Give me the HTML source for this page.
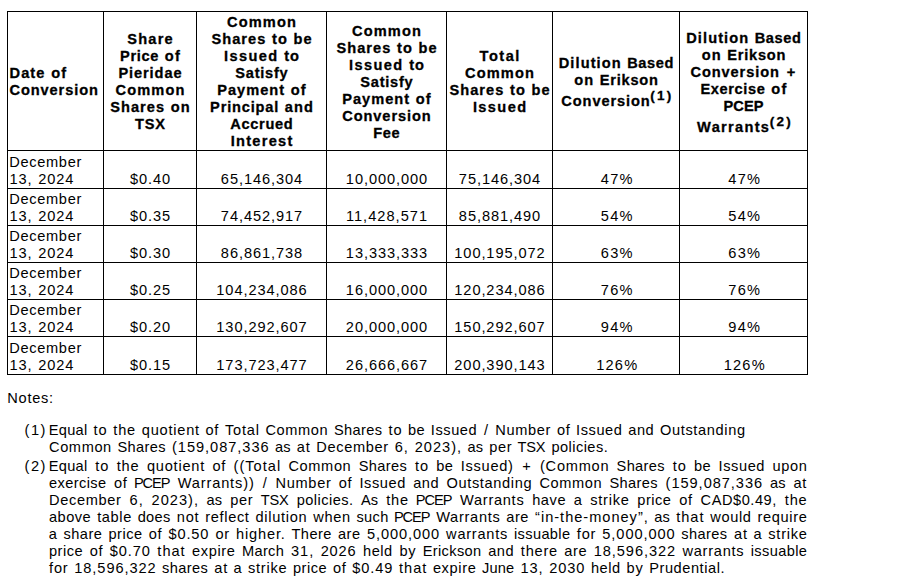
<!DOCTYPE html>
<html><head><meta charset="utf-8"><title>Conversion table</title>
<style>
html,body{margin:0;padding:0;background:#fff;}
body{width:899px;height:582px;position:relative;overflow:hidden;font-family:"Liberation Sans",sans-serif;font-size:14.6px;color:#000;}
.h,.v{position:absolute;background:#000;}
.h{height:1px;left:7px;width:801px;}
.v{width:1px;top:11px;height:364px;}
.l{position:absolute;white-space:nowrap;line-height:17px;height:17px;}
.b{font-weight:bold;-webkit-text-stroke:0.3px #000;}
.l span{display:inline-block;}
sup{font-size:13.5px;line-height:0;vertical-align:6px;letter-spacing:2.3px;margin-right:-2.5px;}
</style></head><body>
<div class="h" style="top:11px"></div><div class="h" style="top:150px"></div><div class="h" style="top:188px"></div><div class="h" style="top:225px"></div><div class="h" style="top:262px"></div><div class="h" style="top:299px"></div><div class="h" style="top:336px"></div><div class="h" style="top:374px"></div><div class="v" style="left:7px"></div><div class="v" style="left:103px"></div><div class="v" style="left:196px"></div><div class="v" style="left:326px"></div><div class="v" style="left:446px"></div><div class="v" style="left:552px"></div><div class="v" style="left:679px"></div><div class="v" style="left:807px"></div>
<div class="l b" style="left:9px;top:65px;word-spacing:1.54px"><span style="letter-spacing:1.09px;margin:0 -0.54px 0 0.54px">Date</span> <span style="letter-spacing:1.11px;margin:0 -0.55px 0 0.55px">of</span></div>
<div class="l b" style="left:9px;top:82px;word-spacing:1.54px"><span style="letter-spacing:0.91px;margin:0 -0.46px 0 0.46px">Conversion</span></div>
<div class="l b" style="left:126.7px;top:31px;word-spacing:1.54px"><span style="letter-spacing:1.21px;margin:0 -0.6px 0 0.6px">Share</span></div>
<div class="l b" style="left:119.7px;top:48px;word-spacing:1.54px"><span style="letter-spacing:0.66px;margin:0 -0.33px 0 0.33px">Price</span> <span style="letter-spacing:1.11px;margin:0 -0.55px 0 0.55px">of</span></div>
<div class="l b" style="left:118px;top:65px;word-spacing:1.54px"><span style="letter-spacing:0.9px;margin:0 -0.45px 0 0.45px">Pieridae</span></div>
<div class="l b" style="left:115px;top:82px;word-spacing:1.54px"><span style="letter-spacing:1.12px;margin:0 -0.56px 0 0.56px">Common</span></div>
<div class="l b" style="left:109.8px;top:99px;word-spacing:1.54px"><span style="letter-spacing:1.02px;margin:0 -0.51px 0 0.51px">Shares</span> <span style="letter-spacing:1.08px;margin:0 -0.54px 0 0.54px">on</span></div>
<div class="l b" style="left:134.5px;top:116px;word-spacing:1.54px"><span style="letter-spacing:0.87px;margin:0 -0.43px 0 0.43px">TSX</span></div>
<div class="l b" style="left:226.5px;top:14px;word-spacing:1.54px"><span style="letter-spacing:1.12px;margin:0 -0.56px 0 0.56px">Common</span></div>
<div class="l b" style="left:211px;top:31px;word-spacing:1.54px"><span style="letter-spacing:1.02px;margin:0 -0.51px 0 0.51px">Shares</span> <span style="letter-spacing:1.11px;margin:0 -0.55px 0 0.55px">to</span> <span style="letter-spacing:0.98px;margin:0 -0.49px 0 0.49px">be</span></div>
<div class="l b" style="left:223.4px;top:48px;word-spacing:1.54px"><span style="letter-spacing:1.39px;margin:0 -0.7px 0 0.7px">Issued</span> <span style="letter-spacing:1.11px;margin:0 -0.55px 0 0.55px">to</span></div>
<div class="l b" style="left:235px;top:65px;word-spacing:1.54px"><span style="letter-spacing:0.73px;margin:0 -0.37px 0 0.37px">Satisfy</span></div>
<div class="l b" style="left:216.7px;top:82px;word-spacing:1.54px"><span style="letter-spacing:1.02px;margin:0 -0.51px 0 0.51px">Payment</span> <span style="letter-spacing:1.11px;margin:0 -0.55px 0 0.55px">of</span></div>
<div class="l b" style="left:209.7px;top:99px;word-spacing:1.54px"><span style="letter-spacing:0.82px;margin:0 -0.41px 0 0.41px">Principal</span> <span style="letter-spacing:1.02px;margin:0 -0.51px 0 0.51px">and</span></div>
<div class="l b" style="left:230px;top:116px;word-spacing:1.54px"><span style="letter-spacing:0.66px;margin:0 -0.33px 0 0.33px">Accrued</span></div>
<div class="l b" style="left:230px;top:133px;word-spacing:1.54px"><span style="letter-spacing:1.29px;margin:0 -0.64px 0 0.64px">Interest</span></div>
<div class="l b" style="left:351.5px;top:23px;word-spacing:1.54px"><span style="letter-spacing:1.12px;margin:0 -0.56px 0 0.56px">Common</span></div>
<div class="l b" style="left:336px;top:40px;word-spacing:1.54px"><span style="letter-spacing:1.02px;margin:0 -0.51px 0 0.51px">Shares</span> <span style="letter-spacing:1.11px;margin:0 -0.55px 0 0.55px">to</span> <span style="letter-spacing:0.98px;margin:0 -0.49px 0 0.49px">be</span></div>
<div class="l b" style="left:348.4px;top:57px;word-spacing:1.54px"><span style="letter-spacing:1.39px;margin:0 -0.7px 0 0.7px">Issued</span> <span style="letter-spacing:1.11px;margin:0 -0.55px 0 0.55px">to</span></div>
<div class="l b" style="left:360px;top:74px;word-spacing:1.54px"><span style="letter-spacing:0.73px;margin:0 -0.37px 0 0.37px">Satisfy</span></div>
<div class="l b" style="left:341.7px;top:91px;word-spacing:1.54px"><span style="letter-spacing:1.02px;margin:0 -0.51px 0 0.51px">Payment</span> <span style="letter-spacing:1.11px;margin:0 -0.55px 0 0.55px">of</span></div>
<div class="l b" style="left:341.8px;top:108px;word-spacing:1.54px"><span style="letter-spacing:0.91px;margin:0 -0.46px 0 0.46px">Conversion</span></div>
<div class="l b" style="left:373px;top:125px;word-spacing:1.54px"><span style="letter-spacing:0.61px;margin:0 -0.31px 0 0.31px">Fee</span></div>
<div class="l b" style="left:478.85px;top:48px;word-spacing:1.54px"><span style="letter-spacing:1.5px;margin:0 -0.75px 0 0.75px">Total</span></div>
<div class="l b" style="left:464.5px;top:65px;word-spacing:1.54px"><span style="letter-spacing:1.12px;margin:0 -0.56px 0 0.56px">Common</span></div>
<div class="l b" style="left:449px;top:82px;word-spacing:1.54px"><span style="letter-spacing:1.02px;margin:0 -0.51px 0 0.51px">Shares</span> <span style="letter-spacing:1.11px;margin:0 -0.55px 0 0.55px">to</span> <span style="letter-spacing:0.98px;margin:0 -0.49px 0 0.49px">be</span></div>
<div class="l b" style="left:472.2px;top:99px;word-spacing:1.54px"><span style="letter-spacing:1.39px;margin:0 -0.7px 0 0.7px">Issued</span></div>
<div class="l b" style="left:558.2px;top:55px;word-spacing:1.54px"><span style="letter-spacing:1.09px;margin:0 -0.54px 0 0.54px">Dilution</span> <span style="letter-spacing:0.64px;margin:0 -0.32px 0 0.32px">Based</span></div>
<div class="l b" style="left:573.7px;top:72px;word-spacing:1.54px"><span style="letter-spacing:1.08px;margin:0 -0.54px 0 0.54px">on</span> <span style="letter-spacing:0.78px;margin:0 -0.39px 0 0.39px">Erikson</span></div>
<div class="l b" style="left:560.85px;top:93px;word-spacing:1.54px"><span style="letter-spacing:0.91px;margin:0 -0.46px 0 0.46px">Conversion</span><sup>(1)</sup></div>
<div class="l b" style="left:685.7px;top:30px;word-spacing:1.54px"><span style="letter-spacing:1.09px;margin:0 -0.54px 0 0.54px">Dilution</span> <span style="letter-spacing:0.64px;margin:0 -0.32px 0 0.32px">Based</span></div>
<div class="l b" style="left:701.2px;top:47px;word-spacing:1.54px"><span style="letter-spacing:1.08px;margin:0 -0.54px 0 0.54px">on</span> <span style="letter-spacing:0.78px;margin:0 -0.39px 0 0.39px">Erikson</span></div>
<div class="l b" style="left:690px;top:64px;word-spacing:1.54px"><span style="letter-spacing:0.91px;margin:0 -0.46px 0 0.46px">Conversion</span> <span style="letter-spacing:3.47px;margin:0 -1.73px 0 1.73px">+</span></div>
<div class="l b" style="left:700.2px;top:81px;word-spacing:1.54px"><span style="letter-spacing:0.62px;margin:0 -0.31px 0 0.31px">Exercise</span> <span style="letter-spacing:1.11px;margin:0 -0.55px 0 0.55px">of</span></div>
<div class="l b" style="left:723.5px;top:98px;word-spacing:1.54px"><span style="letter-spacing:0.06px;margin:0 -0.03px 0 0.03px">PCEP</span></div>
<div class="l b" style="left:696.45px;top:119px;word-spacing:1.54px"><span style="letter-spacing:1.31px;margin:0 -0.66px 0 0.66px">Warrants</span><sup>(2)</sup></div>
<div class="l" style="left:9px;top:154px;word-spacing:1.69px"><span style="letter-spacing:0.66px;margin:0 -0.33px 0 0.33px">December</span></div>
<div class="l" style="left:9px;top:171px;word-spacing:1.69px"><span style="letter-spacing:0.93px;margin:0 -0.47px 0 0.47px">13,</span> <span style="letter-spacing:0.88px;margin:0 -0.44px 0 0.44px">2024</span></div>
<div class="l" style="left:129.5px;top:171px;word-spacing:1.69px"><span style="letter-spacing:0.89px;margin:0 -0.45px 0 0.45px">$0.40</span></div>
<div class="l" style="left:220.4px;top:171px;word-spacing:1.69px"><span style="letter-spacing:0.92px;margin:0 -0.46px 0 0.46px">65,146,304</span></div>
<div class="l" style="left:345.4px;top:171px;word-spacing:1.69px"><span style="letter-spacing:0.92px;margin:0 -0.46px 0 0.46px">10,000,000</span></div>
<div class="l" style="left:458.4px;top:171px;word-spacing:1.69px"><span style="letter-spacing:0.92px;margin:0 -0.46px 0 0.46px">75,146,304</span></div>
<div class="l" style="left:600.17px;top:171px;word-spacing:1.69px"><span style="letter-spacing:1.28px;margin:0 -0.64px 0 0.64px">47%</span></div>
<div class="l" style="left:727.67px;top:171px;word-spacing:1.69px"><span style="letter-spacing:1.28px;margin:0 -0.64px 0 0.64px">47%</span></div>
<div class="l" style="left:9px;top:191px;word-spacing:1.69px"><span style="letter-spacing:0.66px;margin:0 -0.33px 0 0.33px">December</span></div>
<div class="l" style="left:9px;top:208px;word-spacing:1.69px"><span style="letter-spacing:0.93px;margin:0 -0.47px 0 0.47px">13,</span> <span style="letter-spacing:0.88px;margin:0 -0.44px 0 0.44px">2024</span></div>
<div class="l" style="left:129.5px;top:208px;word-spacing:1.69px"><span style="letter-spacing:0.89px;margin:0 -0.45px 0 0.45px">$0.35</span></div>
<div class="l" style="left:220.4px;top:208px;word-spacing:1.69px"><span style="letter-spacing:0.92px;margin:0 -0.46px 0 0.46px">74,452,917</span></div>
<div class="l" style="left:345.4px;top:208px;word-spacing:1.69px"><span style="letter-spacing:1.02px;margin:0 -0.51px 0 0.51px">11,428,571</span></div>
<div class="l" style="left:458.4px;top:208px;word-spacing:1.69px"><span style="letter-spacing:0.92px;margin:0 -0.46px 0 0.46px">85,881,490</span></div>
<div class="l" style="left:600.17px;top:208px;word-spacing:1.69px"><span style="letter-spacing:1.28px;margin:0 -0.64px 0 0.64px">54%</span></div>
<div class="l" style="left:727.67px;top:208px;word-spacing:1.69px"><span style="letter-spacing:1.28px;margin:0 -0.64px 0 0.64px">54%</span></div>
<div class="l" style="left:9px;top:228px;word-spacing:1.69px"><span style="letter-spacing:0.66px;margin:0 -0.33px 0 0.33px">December</span></div>
<div class="l" style="left:9px;top:245px;word-spacing:1.69px"><span style="letter-spacing:0.93px;margin:0 -0.47px 0 0.47px">13,</span> <span style="letter-spacing:0.88px;margin:0 -0.44px 0 0.44px">2024</span></div>
<div class="l" style="left:129.5px;top:245px;word-spacing:1.69px"><span style="letter-spacing:0.89px;margin:0 -0.45px 0 0.45px">$0.30</span></div>
<div class="l" style="left:220.4px;top:245px;word-spacing:1.69px"><span style="letter-spacing:0.92px;margin:0 -0.46px 0 0.46px">86,861,738</span></div>
<div class="l" style="left:345.4px;top:245px;word-spacing:1.69px"><span style="letter-spacing:0.92px;margin:0 -0.46px 0 0.46px">13,333,333</span></div>
<div class="l" style="left:453.89px;top:245px;word-spacing:1.69px"><span style="letter-spacing:0.91px;margin:0 -0.46px 0 0.46px">100,195,072</span></div>
<div class="l" style="left:600.17px;top:245px;word-spacing:1.69px"><span style="letter-spacing:1.28px;margin:0 -0.64px 0 0.64px">63%</span></div>
<div class="l" style="left:727.67px;top:245px;word-spacing:1.69px"><span style="letter-spacing:1.28px;margin:0 -0.64px 0 0.64px">63%</span></div>
<div class="l" style="left:9px;top:265px;word-spacing:1.69px"><span style="letter-spacing:0.66px;margin:0 -0.33px 0 0.33px">December</span></div>
<div class="l" style="left:9px;top:282px;word-spacing:1.69px"><span style="letter-spacing:0.93px;margin:0 -0.47px 0 0.47px">13,</span> <span style="letter-spacing:0.88px;margin:0 -0.44px 0 0.44px">2024</span></div>
<div class="l" style="left:129.5px;top:282px;word-spacing:1.69px"><span style="letter-spacing:0.89px;margin:0 -0.45px 0 0.45px">$0.25</span></div>
<div class="l" style="left:215.9px;top:282px;word-spacing:1.69px"><span style="letter-spacing:0.91px;margin:0 -0.46px 0 0.46px">104,234,086</span></div>
<div class="l" style="left:345.4px;top:282px;word-spacing:1.69px"><span style="letter-spacing:0.92px;margin:0 -0.46px 0 0.46px">16,000,000</span></div>
<div class="l" style="left:453.89px;top:282px;word-spacing:1.69px"><span style="letter-spacing:0.91px;margin:0 -0.46px 0 0.46px">120,234,086</span></div>
<div class="l" style="left:600.17px;top:282px;word-spacing:1.69px"><span style="letter-spacing:1.28px;margin:0 -0.64px 0 0.64px">76%</span></div>
<div class="l" style="left:727.67px;top:282px;word-spacing:1.69px"><span style="letter-spacing:1.28px;margin:0 -0.64px 0 0.64px">76%</span></div>
<div class="l" style="left:9px;top:302px;word-spacing:1.69px"><span style="letter-spacing:0.66px;margin:0 -0.33px 0 0.33px">December</span></div>
<div class="l" style="left:9px;top:319px;word-spacing:1.69px"><span style="letter-spacing:0.93px;margin:0 -0.47px 0 0.47px">13,</span> <span style="letter-spacing:0.88px;margin:0 -0.44px 0 0.44px">2024</span></div>
<div class="l" style="left:129.5px;top:319px;word-spacing:1.69px"><span style="letter-spacing:0.89px;margin:0 -0.45px 0 0.45px">$0.20</span></div>
<div class="l" style="left:215.9px;top:319px;word-spacing:1.69px"><span style="letter-spacing:0.91px;margin:0 -0.46px 0 0.46px">130,292,607</span></div>
<div class="l" style="left:345.4px;top:319px;word-spacing:1.69px"><span style="letter-spacing:0.92px;margin:0 -0.46px 0 0.46px">20,000,000</span></div>
<div class="l" style="left:453.89px;top:319px;word-spacing:1.69px"><span style="letter-spacing:0.91px;margin:0 -0.46px 0 0.46px">150,292,607</span></div>
<div class="l" style="left:600.17px;top:319px;word-spacing:1.69px"><span style="letter-spacing:1.28px;margin:0 -0.64px 0 0.64px">94%</span></div>
<div class="l" style="left:727.67px;top:319px;word-spacing:1.69px"><span style="letter-spacing:1.28px;margin:0 -0.64px 0 0.64px">94%</span></div>
<div class="l" style="left:9px;top:340px;word-spacing:1.69px"><span style="letter-spacing:0.66px;margin:0 -0.33px 0 0.33px">December</span></div>
<div class="l" style="left:9px;top:357px;word-spacing:1.69px"><span style="letter-spacing:0.93px;margin:0 -0.47px 0 0.47px">13,</span> <span style="letter-spacing:0.88px;margin:0 -0.44px 0 0.44px">2024</span></div>
<div class="l" style="left:129.5px;top:357px;word-spacing:1.69px"><span style="letter-spacing:0.89px;margin:0 -0.45px 0 0.45px">$0.15</span></div>
<div class="l" style="left:215.9px;top:357px;word-spacing:1.69px"><span style="letter-spacing:0.91px;margin:0 -0.46px 0 0.46px">173,723,477</span></div>
<div class="l" style="left:345.4px;top:357px;word-spacing:1.69px"><span style="letter-spacing:0.92px;margin:0 -0.46px 0 0.46px">26,666,667</span></div>
<div class="l" style="left:453.89px;top:357px;word-spacing:1.69px"><span style="letter-spacing:0.91px;margin:0 -0.46px 0 0.46px">200,390,143</span></div>
<div class="l" style="left:595.67px;top:357px;word-spacing:1.69px"><span style="letter-spacing:1.19px;margin:0 -0.59px 0 0.59px">126%</span></div>
<div class="l" style="left:723.17px;top:357px;word-spacing:1.69px"><span style="letter-spacing:1.19px;margin:0 -0.59px 0 0.59px">126%</span></div>
<div class="l" style="left:7px;top:390px;word-spacing:1.69px"><span style="letter-spacing:0.72px;margin:0 -0.36px 0 0.36px">Notes:</span></div>
<div class="l" style="left:23.8px;top:422px;word-spacing:1.69px"><span style="letter-spacing:1.52px;margin:0 -0.76px 0 0.76px">(1)</span></div>
<div class="l" style="left:48.7px;top:422px;word-spacing:1.69px"><span style="letter-spacing:0.27px;margin:0 -0.14px 0 0.14px">Equal</span> <span style="letter-spacing:0.92px;margin:0 -0.46px 0 0.46px">to</span> <span style="letter-spacing:0.81px;margin:0 -0.4px 0 0.4px">the</span> <span style="letter-spacing:0.78px;margin:0 -0.39px 0 0.39px">quotient</span> <span style="letter-spacing:0.63px;margin:0 -0.31px 0 0.31px">of</span> <span style="letter-spacing:0.81px;margin:0 -0.41px 0 0.41px">Total</span> <span style="letter-spacing:0.61px;margin:0 -0.31px 0 0.31px">Common</span> <span style="letter-spacing:0.37px;margin:0 -0.18px 0 0.18px">Shares</span> <span style="letter-spacing:0.92px;margin:0 -0.46px 0 0.46px">to</span> <span style="letter-spacing:0.42px;margin:0 -0.21px 0 0.21px">be</span> <span style="letter-spacing:0.57px;margin:0 -0.28px 0 0.28px">Issued</span> <span style="letter-spacing:2.29px;margin:0 -1.15px 0 1.15px">/</span> <span style="letter-spacing:0.68px;margin:0 -0.34px 0 0.34px">Number</span> <span style="letter-spacing:0.63px;margin:0 -0.31px 0 0.31px">of</span> <span style="letter-spacing:0.57px;margin:0 -0.28px 0 0.28px">Issued</span> <span style="letter-spacing:0.55px;margin:0 -0.27px 0 0.27px">and</span> <span style="letter-spacing:0.63px;margin:0 -0.31px 0 0.31px">Outstanding</span></div>
<div class="l" style="left:48.7px;top:439px;word-spacing:1.69px"><span style="letter-spacing:0.61px;margin:0 -0.31px 0 0.31px">Common</span> <span style="letter-spacing:0.37px;margin:0 -0.18px 0 0.18px">Shares</span> <span style="letter-spacing:0.96px;margin:0 -0.48px 0 0.48px">(159,087,336</span> <span style="letter-spacing:0.14px;margin:0 -0.07px 0 0.07px">as</span> <span style="letter-spacing:0.88px;margin:0 -0.44px 0 0.44px">at</span> <span style="letter-spacing:0.66px;margin:0 -0.33px 0 0.33px">December</span> <span style="letter-spacing:0.96px;margin:0 -0.48px 0 0.48px">6,</span> <span style="letter-spacing:1.01px;margin:0 -0.51px 0 0.51px">2023),</span> <span style="letter-spacing:0.14px;margin:0 -0.07px 0 0.07px">as</span> <span style="letter-spacing:0.65px;margin:0 -0.33px 0 0.33px">per</span> <span style="letter-spacing:-0.2px;margin:0 0.1px 0 -0.1px">TSX</span> <span style="letter-spacing:0.45px;margin:0 -0.22px 0 0.22px">policies.</span></div>
<div class="l" style="left:23.8px;top:458px;word-spacing:1.69px"><span style="letter-spacing:1.52px;margin:0 -0.76px 0 0.76px">(2)</span></div>
<div class="l" style="left:48.7px;top:458px;word-spacing:3.4px"><span style="letter-spacing:0.27px;margin:0 -0.14px 0 0.14px">Equal</span> <span style="letter-spacing:0.92px;margin:0 -0.46px 0 0.46px">to</span> <span style="letter-spacing:0.81px;margin:0 -0.4px 0 0.4px">the</span> <span style="letter-spacing:0.78px;margin:0 -0.39px 0 0.39px">quotient</span> <span style="letter-spacing:0.63px;margin:0 -0.31px 0 0.31px">of</span> <span style="letter-spacing:1.01px;margin:0 -0.5px 0 0.5px">((Total</span> <span style="letter-spacing:0.61px;margin:0 -0.31px 0 0.31px">Common</span> <span style="letter-spacing:0.37px;margin:0 -0.18px 0 0.18px">Shares</span> <span style="letter-spacing:0.92px;margin:0 -0.46px 0 0.46px">to</span> <span style="letter-spacing:0.42px;margin:0 -0.21px 0 0.21px">be</span> <span style="letter-spacing:0.7px;margin:0 -0.35px 0 0.35px">Issued)</span> <span style="letter-spacing:2.92px;margin:0 -1.46px 0 1.46px">+</span> <span style="letter-spacing:0.74px;margin:0 -0.37px 0 0.37px">(Common</span> <span style="letter-spacing:0.37px;margin:0 -0.18px 0 0.18px">Shares</span> <span style="letter-spacing:0.92px;margin:0 -0.46px 0 0.46px">to</span> <span style="letter-spacing:0.42px;margin:0 -0.21px 0 0.21px">be</span> <span style="letter-spacing:0.57px;margin:0 -0.28px 0 0.28px">Issued</span> <span style="letter-spacing:0.62px;margin:0 -0.31px 0 0.31px">upon</span></div>
<div class="l" style="left:48.7px;top:475px;word-spacing:3.24px"><span style="letter-spacing:0.42px;margin:0 -0.21px 0 0.21px">exercise</span> <span style="letter-spacing:0.63px;margin:0 -0.31px 0 0.31px">of</span> <span style="letter-spacing:-1.06px;margin:0 0.53px 0 -0.53px">PCEP</span> <span style="letter-spacing:0.86px;margin:0 -0.43px 0 0.43px">Warrants))</span> <span style="letter-spacing:2.29px;margin:0 -1.15px 0 1.15px">/</span> <span style="letter-spacing:0.68px;margin:0 -0.34px 0 0.34px">Number</span> <span style="letter-spacing:0.63px;margin:0 -0.31px 0 0.31px">of</span> <span style="letter-spacing:0.57px;margin:0 -0.28px 0 0.28px">Issued</span> <span style="letter-spacing:0.55px;margin:0 -0.27px 0 0.27px">and</span> <span style="letter-spacing:0.63px;margin:0 -0.31px 0 0.31px">Outstanding</span> <span style="letter-spacing:0.61px;margin:0 -0.31px 0 0.31px">Common</span> <span style="letter-spacing:0.37px;margin:0 -0.18px 0 0.18px">Shares</span> <span style="letter-spacing:0.96px;margin:0 -0.48px 0 0.48px">(159,087,336</span> <span style="letter-spacing:0.14px;margin:0 -0.07px 0 0.07px">as</span> <span style="letter-spacing:0.88px;margin:0 -0.44px 0 0.44px">at</span></div>
<div class="l" style="left:48.7px;top:492px;word-spacing:3.78px"><span style="letter-spacing:0.66px;margin:0 -0.33px 0 0.33px">December</span> <span style="letter-spacing:0.96px;margin:0 -0.48px 0 0.48px">6,</span> <span style="letter-spacing:1.01px;margin:0 -0.51px 0 0.51px">2023),</span> <span style="letter-spacing:0.14px;margin:0 -0.07px 0 0.07px">as</span> <span style="letter-spacing:0.65px;margin:0 -0.33px 0 0.33px">per</span> <span style="letter-spacing:-0.2px;margin:0 0.1px 0 -0.1px">TSX</span> <span style="letter-spacing:0.45px;margin:0 -0.22px 0 0.22px">policies.</span> <span style="letter-spacing:-0.08px;margin:0 0.04px 0 -0.04px">As</span> <span style="letter-spacing:0.81px;margin:0 -0.4px 0 0.4px">the</span> <span style="letter-spacing:-1.06px;margin:0 0.53px 0 -0.53px">PCEP</span> <span style="letter-spacing:0.71px;margin:0 -0.35px 0 0.35px">Warrants</span> <span style="letter-spacing:0.56px;margin:0 -0.28px 0 0.28px">have</span> <span style="letter-spacing:0.29px;margin:0 -0.14px 0 0.14px">a</span> <span style="letter-spacing:0.73px;margin:0 -0.37px 0 0.37px">strike</span> <span style="letter-spacing:0.51px;margin:0 -0.25px 0 0.25px">price</span> <span style="letter-spacing:0.63px;margin:0 -0.31px 0 0.31px">of</span> <span style="letter-spacing:0.54px;margin:0 -0.27px 0 0.27px">CAD$0.49,</span> <span style="letter-spacing:0.81px;margin:0 -0.4px 0 0.4px">the</span></div>
<div class="l" style="left:48.7px;top:509px;word-spacing:1.79px"><span style="letter-spacing:0.5px;margin:0 -0.25px 0 0.25px">above</span> <span style="letter-spacing:0.64px;margin:0 -0.32px 0 0.32px">table</span> <span style="letter-spacing:0.3px;margin:0 -0.15px 0 0.15px">does</span> <span style="letter-spacing:0.86px;margin:0 -0.43px 0 0.43px">not</span> <span style="letter-spacing:0.64px;margin:0 -0.32px 0 0.32px">reflect</span> <span style="letter-spacing:0.71px;margin:0 -0.36px 0 0.36px">dilution</span> <span style="letter-spacing:0.66px;margin:0 -0.33px 0 0.33px">when</span> <span style="letter-spacing:0.37px;margin:0 -0.19px 0 0.19px">such</span> <span style="letter-spacing:-1.06px;margin:0 0.53px 0 -0.53px">PCEP</span> <span style="letter-spacing:0.71px;margin:0 -0.35px 0 0.35px">Warrants</span> <span style="letter-spacing:0.55px;margin:0 -0.27px 0 0.27px">are</span> <span style="letter-spacing:0.98px;margin:0 -0.49px 0 0.49px">“in-the-money”,</span> <span style="letter-spacing:0.14px;margin:0 -0.07px 0 0.07px">as</span> <span style="letter-spacing:0.99px;margin:0 -0.5px 0 0.5px">that</span> <span style="letter-spacing:0.65px;margin:0 -0.32px 0 0.32px">would</span> <span style="letter-spacing:0.66px;margin:0 -0.33px 0 0.33px">require</span></div>
<div class="l" style="left:48.7px;top:526px;word-spacing:2.01px"><span style="letter-spacing:0.29px;margin:0 -0.14px 0 0.14px">a</span> <span style="letter-spacing:0.48px;margin:0 -0.24px 0 0.24px">share</span> <span style="letter-spacing:0.51px;margin:0 -0.25px 0 0.25px">price</span> <span style="letter-spacing:0.63px;margin:0 -0.31px 0 0.31px">of</span> <span style="letter-spacing:0.89px;margin:0 -0.45px 0 0.45px">$0.50</span> <span style="letter-spacing:0.75px;margin:0 -0.37px 0 0.37px">or</span> <span style="letter-spacing:0.84px;margin:0 -0.42px 0 0.42px">higher.</span> <span style="letter-spacing:0.41px;margin:0 -0.2px 0 0.2px">There</span> <span style="letter-spacing:0.55px;margin:0 -0.27px 0 0.27px">are</span> <span style="letter-spacing:0.92px;margin:0 -0.46px 0 0.46px">5,000,000</span> <span style="letter-spacing:0.74px;margin:0 -0.37px 0 0.37px">warrants</span> <span style="letter-spacing:0.38px;margin:0 -0.19px 0 0.19px">issuable</span> <span style="letter-spacing:0.79px;margin:0 -0.4px 0 0.4px">for</span> <span style="letter-spacing:0.92px;margin:0 -0.46px 0 0.46px">5,000,000</span> <span style="letter-spacing:0.4px;margin:0 -0.2px 0 0.2px">shares</span> <span style="letter-spacing:0.88px;margin:0 -0.44px 0 0.44px">at</span> <span style="letter-spacing:0.29px;margin:0 -0.14px 0 0.14px">a</span> <span style="letter-spacing:0.73px;margin:0 -0.37px 0 0.37px">strike</span></div>
<div class="l" style="left:48.7px;top:543px;word-spacing:2.45px"><span style="letter-spacing:0.51px;margin:0 -0.25px 0 0.25px">price</span> <span style="letter-spacing:0.63px;margin:0 -0.31px 0 0.31px">of</span> <span style="letter-spacing:0.89px;margin:0 -0.45px 0 0.45px">$0.70</span> <span style="letter-spacing:0.99px;margin:0 -0.5px 0 0.5px">that</span> <span style="letter-spacing:0.63px;margin:0 -0.31px 0 0.31px">expire</span> <span style="letter-spacing:0.36px;margin:0 -0.18px 0 0.18px">March</span> <span style="letter-spacing:0.93px;margin:0 -0.47px 0 0.47px">31,</span> <span style="letter-spacing:0.88px;margin:0 -0.44px 0 0.44px">2026</span> <span style="letter-spacing:0.54px;margin:0 -0.27px 0 0.27px">held</span> <span style="letter-spacing:0.79px;margin:0 -0.4px 0 0.4px">by</span> <span style="letter-spacing:0.37px;margin:0 -0.18px 0 0.18px">Erickson</span> <span style="letter-spacing:0.55px;margin:0 -0.27px 0 0.27px">and</span> <span style="letter-spacing:0.76px;margin:0 -0.38px 0 0.38px">there</span> <span style="letter-spacing:0.55px;margin:0 -0.27px 0 0.27px">are</span> <span style="letter-spacing:0.92px;margin:0 -0.46px 0 0.46px">18,596,322</span> <span style="letter-spacing:0.74px;margin:0 -0.37px 0 0.37px">warrants</span> <span style="letter-spacing:0.38px;margin:0 -0.19px 0 0.19px">issuable</span></div>
<div class="l" style="left:48.7px;top:560px;word-spacing:1.69px"><span style="letter-spacing:0.79px;margin:0 -0.4px 0 0.4px">for</span> <span style="letter-spacing:0.92px;margin:0 -0.46px 0 0.46px">18,596,322</span> <span style="letter-spacing:0.4px;margin:0 -0.2px 0 0.2px">shares</span> <span style="letter-spacing:0.88px;margin:0 -0.44px 0 0.44px">at</span> <span style="letter-spacing:0.29px;margin:0 -0.14px 0 0.14px">a</span> <span style="letter-spacing:0.73px;margin:0 -0.37px 0 0.37px">strike</span> <span style="letter-spacing:0.51px;margin:0 -0.25px 0 0.25px">price</span> <span style="letter-spacing:0.63px;margin:0 -0.31px 0 0.31px">of</span> <span style="letter-spacing:0.89px;margin:0 -0.45px 0 0.45px">$0.49</span> <span style="letter-spacing:0.99px;margin:0 -0.5px 0 0.5px">that</span> <span style="letter-spacing:0.63px;margin:0 -0.31px 0 0.31px">expire</span> <span style="letter-spacing:0.2px;margin:0 -0.1px 0 0.1px">June</span> <span style="letter-spacing:0.93px;margin:0 -0.47px 0 0.47px">13,</span> <span style="letter-spacing:0.88px;margin:0 -0.44px 0 0.44px">2030</span> <span style="letter-spacing:0.54px;margin:0 -0.27px 0 0.27px">held</span> <span style="letter-spacing:0.79px;margin:0 -0.4px 0 0.4px">by</span> <span style="letter-spacing:0.56px;margin:0 -0.28px 0 0.28px">Prudential.</span></div>
</body></html>
